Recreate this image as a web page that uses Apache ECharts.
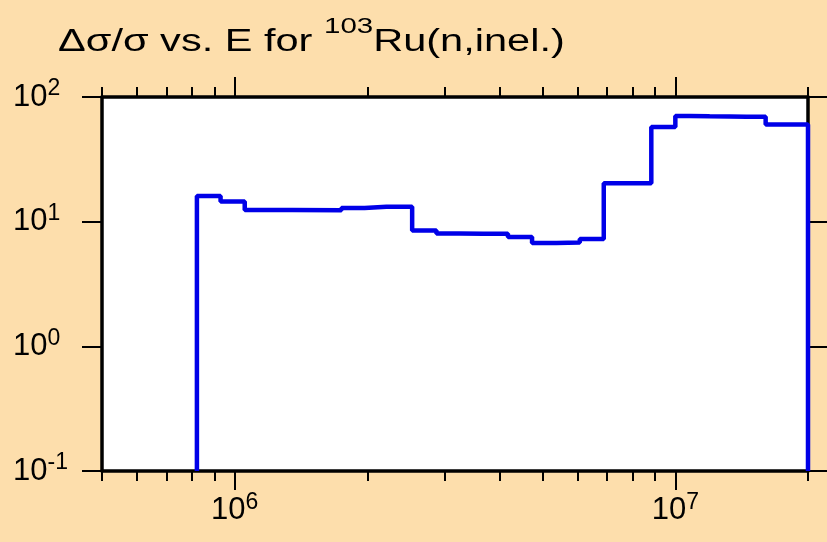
<!DOCTYPE html>
<html lang="en">
<head>
    <meta charset="UTF-8">
    <title>Ru-103 inelastic</title>
    <script src="https://cdn.jsdelivr.net/npm/echarts@6/dist/echarts.min.js"></script>
    <style>
        html, body { margin: 0; padding: 0; background: #fddeac; }
        #main { width: 827px; height: 542px; }
    </style>
</head>
<body>
<div id="main"></div>
<script>
    // bin edges (eV) and relative uncertainty (%) per bin
    var binEdges = [8.21e5, 9.29e5, 1.054e6, 1.19e6, 1.352e6, 1.747e6, 1.972e6, 2.21e6, 2.528e6,
        2.87e6, 3.24e6, 3.67e6, 4.17e6, 4.73e6, 5.37e6, 6.07e6, 6.88e6, 8.82e6, 1.0e7,
        1.078e7, 1.196e7, 1.328e7, 1.449e7, 1.603e7, 2.0e7];
    var binValues = [16.1, 14.5, 12.4, 12.4, 12.35, 12.9, 13.2, 13.2, 8.5,
        8.05, 8.0, 8.0, 7.55, 6.75, 6.8, 7.25, 20.3, 57.5,
        70.3, 70.0, 69.8, 69.5, 69.3, 60.3];

    var xMajorTicks = [1e6, 1e7];
    var xMinorTicks = [5e5, 6e5, 7e5, 8e5, 9e5, 2e6, 3e6, 4e6, 5e6, 6e6, 7e6, 8e6, 9e6, 2e7];
    var yTicks = [0.1, 1, 10, 100];

    var xMin = 5e5, xMax = 2e7, yMin = 0.1, yMax = 100;

    var chart = echarts.init(document.getElementById('main'));

    // step 'start': vertical at the left edge, then horizontal to the right edge
    var stepData = [[binEdges[0], yMin]];
    for (var i = 0; i < binValues.length; i++) {
        stepData.push([binEdges[i + 1], binValues[i]]);
    }
    stepData.push([binEdges[binEdges.length - 1], yMin]);

    var FONT = 'Liberation Sans';
    var labelRich = {
        b: { fontSize: 31, fontFamily: FONT, color: '#000' },
        s: { fontSize: 23, fontFamily: FONT, color: '#000', padding: [0, 0, 16, 0] }
    };
    function powLabel(v) {
        var e = Math.round(Math.log(v) / Math.LN10);
        return '{b|10}{s|' + e + '}';
    }

    function xAxisDef(pos, ticks, len, withLine, withLabel) {
        return {
            type: 'log',
            position: pos,
            min: xMin,
            max: xMax,
            axisLine: { show: withLine, onZero: false, lineStyle: { color: '#000', width: 3.5 } },
            axisTick: { show: true, inside: false, customValues: ticks, length: len, lineStyle: { color: '#000', width: 2 } },
            axisLabel: withLabel ? { show: true, customValues: xMajorTicks, margin: 20, formatter: powLabel, rich: labelRich } : { show: false },
            splitLine: { show: false },
            minorTick: { show: false }
        };
    }

    function yAxisDef(pos, withLabel) {
        return {
            type: 'log',
            position: pos,
            min: yMin,
            max: yMax,
            axisLine: { show: true, onZero: false, lineStyle: { color: '#000', width: 3.5 } },
            axisTick: { show: true, inside: false, customValues: yTicks, length: 20, lineStyle: { color: '#000', width: 2 } },
            axisLabel: withLabel ? { show: true, customValues: yTicks, margin: 89, align: 'left', formatter: powLabel, rich: labelRich } : { show: false },
            splitLine: { show: false }
        };
    }

    var option = {
        backgroundColor: '#fddeac',
        animation: false,
        grid: {
            left: 102, right: 19, top: 97, bottom: 71,
            show: true, backgroundColor: '#fff', borderWidth: 0
        },
        graphic: [{
            type: 'text',
            x: 58,
            y: 16,
            scaleX: 1.34,
            style: {
                text: '{a|\u0394\u03c3/\u03c3 vs. E for }{s|103}{a|Ru(n,inel.)}',
                rich: {
                    a: { fontSize: 31, fontFamily: FONT, fill: '#000' },
                    s: { fontSize: 22, fontFamily: FONT, fill: '#000', padding: [0, 0, 31, 0] }
                }
            }
        }],
        xAxis: [
            xAxisDef('bottom', xMajorTicks, 19, true, true),
            xAxisDef('bottom', xMinorTicks, 10, false, false),
            xAxisDef('top', xMajorTicks, 20, true, false),
            xAxisDef('top', xMinorTicks, 10, false, false)
        ],
        yAxis: [
            yAxisDef('left', true),
            yAxisDef('right', false)
        ],
        series: [{
            type: 'line',
            step: 'start',
            data: stepData,
            showSymbol: false,
            clip: true,
            lineStyle: { color: '#0000e8', width: 4.5 }
        }]
    };
    chart.setOption(option);
</script>
</body>
</html>
